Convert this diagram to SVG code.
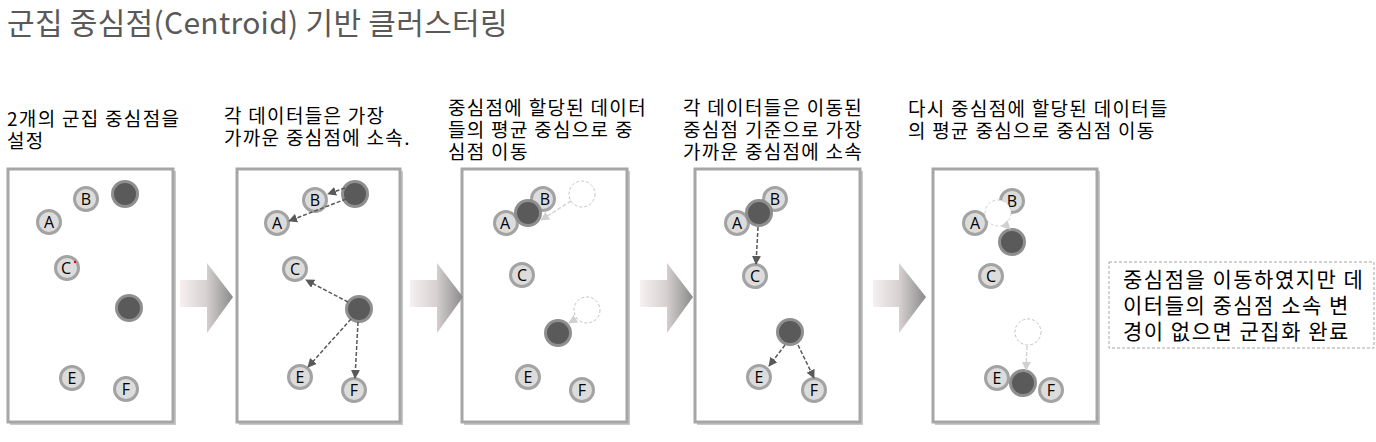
<svg xmlns="http://www.w3.org/2000/svg" width="1376" height="442" viewBox="0 0 1376 442">
<defs>
<linearGradient id="ag" x1="0" y1="0" x2="1" y2="0">
<stop offset="0" stop-color="#f7f0f0"/>
<stop offset="0.5" stop-color="#d6d0d0"/>
<stop offset="1" stop-color="#8a8a8a"/>
</linearGradient>
<marker id="mkd" viewBox="0 0 10 10" refX="9" refY="5" markerWidth="9" markerHeight="9" orient="auto" markerUnits="userSpaceOnUse"><path d="M0,0 L10,5 L0,10 z" fill="#595959"/></marker>
<marker id="mkl" viewBox="0 0 10 10" refX="9" refY="5" markerWidth="9" markerHeight="9" orient="auto" markerUnits="userSpaceOnUse"><path d="M0,0 L10,5 L0,10 z" fill="#d0d0d0"/></marker>
</defs>
<style>
.title{font-family:"Noto Sans CJK KR","Noto Sans",sans-serif;font-size:30px;letter-spacing:0.3px;fill:#595959}
.cap{font-family:"Noto Sans CJK KR","Noto Sans",sans-serif;font-size:19px;letter-spacing:1.3px;fill:#000}
.ntx{font-family:"Noto Sans CJK KR","Noto Sans",sans-serif;font-size:21px;letter-spacing:1.5px;fill:#000}
.box{fill:#fff;stroke:#a6a6a6;stroke-width:3}
.shadow{fill:#c8c8c8}
.pt{fill:#dcdcdc;stroke:#a3a3a3;stroke-width:3}
.lbl{font-family:"Open Sans","Liberation Sans",sans-serif;font-size:16px;fill:#000;text-anchor:middle}
.cen{fill:#5a5a5a;stroke:#8f8f8f;stroke-width:3}
.ghost{fill:#fff;stroke:#c4c4c4;stroke-width:1;stroke-dasharray:3 2}
.dl{stroke:#595959;stroke-width:1.5;stroke-dasharray:4 2;fill:none;marker-end:url(#mkd)}
.ll{stroke:#d4d4d4;stroke-width:1.5;stroke-dasharray:4 2;fill:none;marker-end:url(#mkl)}
.barrow{fill:url(#ag)}
.note{fill:#fff;stroke:#a6a6a6;stroke-width:1;stroke-dasharray:3 2}
</style>
<text class="title" x="7" y="34">군집 중심점(Centroid) 기반 클러스터링</text>

<g id="caption1"><text class="cap" x="7" y="126">2개의 군집 중심점을</text><text class="cap" x="7" y="148">설정</text></g>
<g id="caption2"><text class="cap" x="224" y="123">각 데이터들은 가장</text><text class="cap" x="224" y="145">가까운 중심점에 소속.</text></g>
<g id="caption3"><text class="cap" x="448" y="115">중심점에 할당된 데이터</text><text class="cap" x="448" y="137">들의 평균 중심으로 중</text><text class="cap" x="448" y="159">심점 이동</text></g>
<g id="caption4"><text class="cap" x="683" y="115">각 데이터들은 이동된</text><text class="cap" x="683" y="137">중심점 기준으로 가장</text><text class="cap" x="683" y="159">가까운 중심점에 소속</text></g>
<g id="caption5"><text class="cap" x="908" y="116">다시 중심점에 할당된 데이터들</text><text class="cap" x="908" y="138">의 평균 중심으로 중심점 이동</text></g>

<g id="panel1">
<rect class="shadow" x="10" y="171" width="166" height="254"/>
<rect class="box" x="8" y="169" width="165" height="253"/>
<circle class="pt" cx="86" cy="199" r="11.5"/><text class="lbl" x="86" y="205">B</text>
<circle class="cen" cx="125" cy="194" r="12.5"/>
<circle class="pt" cx="49" cy="222" r="11.5"/><text class="lbl" x="49" y="228">A</text>
<circle class="pt" cx="67" cy="268" r="11.5"/><text class="lbl" x="66" y="274">C</text>
<circle cx="75" cy="262" r="1.2" fill="#e00"/>
<circle class="cen" cx="129" cy="308" r="12.5"/>
<circle class="pt" cx="72" cy="378" r="11.5"/><text class="lbl" x="72" y="384">E</text>
<circle class="pt" cx="126" cy="389" r="11.5"/><text class="lbl" x="126" y="395">F</text>
</g>

<g id="panel2">
<rect class="shadow" x="239" y="171" width="164" height="254"/>
<rect class="box" x="237" y="169" width="163" height="253"/>
<circle class="pt" cx="315" cy="200" r="11.5"/><text class="lbl" x="315" y="206">B</text>
<circle class="cen" cx="355" cy="194" r="12.5"/>
<circle class="pt" cx="277" cy="223" r="11.5"/><text class="lbl" x="277" y="229">A</text>
<circle class="pt" cx="295" cy="269" r="11.5"/><text class="lbl" x="295" y="275">C</text>
<circle class="cen" cx="359" cy="309" r="12.5"/>
<circle class="pt" cx="300" cy="377" r="11.5"/><text class="lbl" x="300" y="383">E</text>
<circle class="pt" cx="354" cy="390" r="11.5"/><text class="lbl" x="354" y="396">F</text>
</g>

<g id="panel3">
<rect class="shadow" x="464" y="171" width="166" height="254"/>
<rect class="box" x="462" y="169" width="165" height="253"/>
<circle class="pt" cx="543" cy="199" r="11.5"/><text class="lbl" x="545" y="205">B</text>
<circle class="pt" cx="506" cy="223" r="11.5"/><text class="lbl" x="505" y="229">A</text>
<circle class="cen" cx="528" cy="213" r="12.5"/>
<circle class="ghost" cx="582" cy="194" r="13"/>
<circle class="pt" cx="522" cy="275" r="11.5"/><text class="lbl" x="522" y="281">C</text>
<circle class="ghost" cx="587" cy="310" r="13"/>
<circle class="cen" cx="558" cy="333" r="12.5"/>
<circle class="pt" cx="528" cy="377" r="11.5"/><text class="lbl" x="528" y="383">E</text>
<circle class="pt" cx="582" cy="390" r="11.5"/><text class="lbl" x="582" y="396">F</text>
</g>

<g id="panel4">
<rect class="shadow" x="697" y="171" width="166" height="254"/>
<rect class="box" x="695" y="169" width="165" height="253"/>
<circle class="pt" cx="775" cy="199" r="11.5"/><text class="lbl" x="775" y="205">B</text>
<circle class="pt" cx="737" cy="223" r="11.5"/><text class="lbl" x="737" y="229">A</text>
<circle class="cen" cx="759" cy="213" r="12.5"/>
<circle class="pt" cx="755" cy="276" r="11.5"/><text class="lbl" x="755" y="282">C</text>
<circle class="cen" cx="790" cy="332" r="12.5"/>
<circle class="pt" cx="759" cy="377" r="11.5"/><text class="lbl" x="759" y="383">E</text>
<circle class="pt" cx="814" cy="390" r="11.5"/><text class="lbl" x="814" y="396">F</text>
</g>

<g id="panel5">
<rect class="shadow" x="935" y="171" width="165" height="254"/>
<rect class="box" x="933" y="169" width="164" height="253"/>
<circle class="pt" cx="1012" cy="201" r="11.5"/><text class="lbl" x="1012" y="207">B</text>
<circle class="pt" cx="975" cy="223" r="11.5"/><text class="lbl" x="975" y="229">A</text>
<circle cx="998" cy="213" r="13" fill="#fff" stroke="#d0d0d0" stroke-width="1" stroke-dasharray="3 2"/>
<circle class="cen" cx="1012" cy="242" r="12.5"/>
<circle class="pt" cx="991" cy="276" r="11.5"/><text class="lbl" x="991" y="282">C</text>
<circle class="ghost" cx="1028" cy="332" r="13"/>
<circle class="pt" cx="997" cy="378" r="11.5"/><text class="lbl" x="997" y="384">E</text>
<circle class="pt" cx="1051" cy="390" r="11.5"/><text class="lbl" x="1051" y="396">F</text>
<circle class="cen" cx="1023" cy="383" r="12.5"/>
</g>

<g id="connectors">
<line class="dl" x1="345" y1="188" x2="328" y2="194"/>
<line class="dl" x1="346" y1="199" x2="289" y2="221"/>
<line class="dl" x1="348" y1="302" x2="306" y2="280"/>
<line class="dl" x1="351" y1="319" x2="308" y2="367"/>
<line class="dl" x1="358" y1="322" x2="355" y2="378"/>
<line class="ll" x1="571" y1="201" x2="541" y2="220"/>
<line class="ll" x1="577" y1="318" x2="569" y2="323"/>
<line class="dl" x1="758" y1="227" x2="756" y2="264"/>
<line class="dl" x1="785" y1="345" x2="769" y2="366"/>
<line class="dl" x1="798" y1="345" x2="814" y2="378"/>
<line class="ll" x1="1005" y1="224" x2="1010" y2="229"/>
<line class="ll" x1="1027" y1="346" x2="1026" y2="370"/>
</g>

<g id="arrow1"><path class="barrow" d="M180,280 H207 V263 L233,297 L207,333 V307 H180 Z"/></g>
<g id="arrow2"><path class="barrow" d="M410,280 H437 V263 L463,297 L437,333 V307 H410 Z"/></g>
<g id="arrow3"><path class="barrow" d="M640,280 H667 V263 L693,297 L667,333 V307 H640 Z"/></g>
<g id="arrow4"><path class="barrow" d="M873,280 H899 V263 L926,297 L899,333 V307 H873 Z"/></g>

<g id="note">
<rect class="note" x="1109" y="262" width="265" height="86"/>
<text class="ntx" x="1123" y="287">중심점을 이동하였지만 데</text>
<text class="ntx" x="1123" y="313">이터들의 중심점 소속 변</text>
<text class="ntx" x="1123" y="339">경이 없으면 군집화 완료</text>
</g>
</svg>
